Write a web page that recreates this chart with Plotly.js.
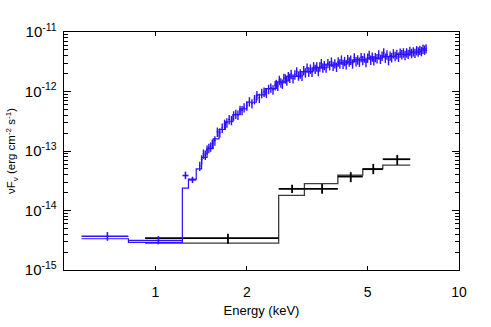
<!DOCTYPE html>
<html>
<head>
<meta charset="utf-8">
<script src="https://cdn.plot.ly/plotly-3.0.1.min.js"></script>
<style>html,body{margin:0;padding:0;background:#fff;}#chart{width:491px;height:327px;}</style>
</head>
<body>
<div id="chart"></div>
<script>
// ---- black spectrum (data) ----
const blackE    = [1.734, 2.82, 3.54, 4.40, 5.22, 6.26];
const blackElo  = [0.925, 2.547, 3.096, 3.99, 4.82, 5.61];
const blackEhi  = [2.547, 3.096, 3.99, 4.82, 5.61, 6.91];
const blackF    = [3.44e-15, 2.31e-14, 2.31e-14, 3.72e-14, 4.95e-14, 7.28e-14];
const blackFlo  = [2.76e-15, 1.96e-14, 1.91e-14, 3.0e-14, 4.08e-14, 5.85e-14];
const blackFhi  = [4.06e-15, 2.70e-14, 2.80e-14, 4.41e-14, 6.08e-14, 8.6e-14];
// ---- black model (step) ----
const blackModelEdges = [0.925, 2.547, 3.096, 3.99, 4.82, 5.61, 6.91];
const blackModelF     = [2.84e-15, 1.79e-14, 2.84e-14, 3.92e-14, 5.01e-14, 5.78e-14];

// ---- blue spectrum: low-energy wide bins ----
const blueLowE   = [0.695, 1.023, 1.256, 1.325];
const blueLowElo = [0.571, 0.815, 1.228, 1.285];
const blueLowEhi = [0.815, 1.227, 1.285, 1.363];
const blueLowF   = [3.69e-15, 3.14e-15, 3.87e-14, 3.27e-14];
const blueLowFlo = [3.1e-15, 2.7e-15, 3.37e-14, 2.9e-14];
const blueLowFhi = [4.34e-15, 3.72e-15, 4.5e-14, 3.7e-14];

// ---- blue spectrum: dense bins ----
const blueE = [1.40,1.42,1.44,1.46,1.48,1.50,1.52,1.54,1.57,1.60,1.63,1.66,1.69,1.72,1.75,1.78,1.81,1.84,1.87,1.90,
  1.93,1.96,2.00,2.04,2.08,2.12,2.16,2.20,2.24,2.28,2.32,2.36,2.40,2.44,2.48,
  2.50,2.53,2.56,2.59,2.62,2.65,2.68,2.71,2.74,2.77,2.80,
  2.84,2.88,2.92,2.96,3.00,3.04,3.08,3.12,3.16,3.20,3.24,3.28,3.32,3.36,3.40,3.44,3.48,3.52,3.56,3.60,
  3.65,3.70,3.75,3.80,3.85,3.90,3.95,4.00,4.05,4.10,4.15,4.20,4.25,4.30,4.35,4.40,
  4.46,4.52,4.58,4.64,4.70,4.76,4.82,4.88,4.94,5.00,5.06,5.12,5.18,5.24,5.30,
  5.37,5.44,5.51,5.58,5.65,5.72,5.79,5.86,5.93,6.00,
  6.08,6.16,6.24,6.32,6.40,6.48,6.56,6.64,6.72,6.80,
  6.89,6.98,7.07,7.16,7.25,7.34,7.43,7.52,7.61,7.70,7.79];
const blueF = [0.056e-12,0.072e-12,0.090e-12,0.086e-12,0.105e-12,0.112e-12,0.118e-12,0.132e-12,0.150e-12,0.21e-12,
  0.205e-12,0.245e-12,0.285e-12,0.30e-12,0.34e-12,0.33e-12,0.395e-12,0.42e-12,0.405e-12,0.49e-12,
  0.485e-12,0.54e-12,0.58e-12,0.68e-12,0.63e-12,0.74e-12,0.86e-12,0.78e-12,0.94e-12,0.99e-12,
  0.95e-12,1.10e-12,1.16e-12,1.08e-12,1.27e-12,
  1.34e-12,1.24e-12,1.56e-12,1.41e-12,1.35e-12,1.68e-12,1.65e-12,1.53e-12,1.80e-12,1.69e-12,1.96e-12,
  1.66e-12,1.93e-12,2.16e-12,1.85e-12,2.00e-12,1.83e-12,2.27e-12,2.09e-12,2.51e-12,2.16e-12,
  2.41e-12,2.14e-12,2.64e-12,2.39e-12,2.63e-12,2.20e-12,2.62e-12,2.98e-12,2.52e-12,2.77e-12,
  2.51e-12,2.99e-12,2.75e-12,3.16e-12,2.69e-12,2.96e-12,2.60e-12,3.18e-12,2.94e-12,3.43e-12,
  2.90e-12,3.24e-12,2.87e-12,3.47e-12,3.18e-12,3.40e-12,
  2.95e-12,3.74e-12,3.21e-12,3.44e-12,3.16e-12,3.77e-12,3.36e-12,3.73e-12,3.13e-12,3.69e-12,
  4.11e-12,3.41e-12,3.84e-12,3.35e-12,3.77e-12,
  3.62e-12,4.17e-12,3.53e-12,3.97e-12,4.50e-12,3.69e-12,4.18e-12,3.35e-12,4.00e-12,3.75e-12,
  4.36e-12,3.93e-12,4.26e-12,3.82e-12,4.49e-12,4.21e-12,4.52e-12,4.09e-12,4.53e-12,4.27e-12,
  4.78e-12,4.43e-12,4.71e-12,4.45e-12,4.93e-12,4.70e-12,5.00e-12,4.76e-12,5.22e-12,5.03e-12,5.30e-12];

// ---- blue model (step) ----
const blueModelEdges = [0.571,0.815,1.227,1.285,1.363,1.42,1.48,1.55,1.62,1.70,1.80,1.90,2.0,2.15,2.3,2.5,2.7,3.0,3.3,3.6,4.0,4.5,5.0,5.6,6.2,6.9,7.5,7.85];
const blueModelF = [3.35e-15,2.9e-15,2.38e-14,3.36e-14,5.0e-14,7.8e-14,1.1e-13,1.6e-13,2.3e-13,3.1e-13,4.1e-13,5.1e-13,6.6e-13,8.8e-13,1.12e-12,1.45e-12,1.8e-12,2.15e-12,2.5e-12,2.8e-12,3.1e-12,3.4e-12,3.65e-12,3.9e-12,4.2e-12,4.6e-12,4.95e-12];

// ---- axis labels ----
const xTickVals = [1, 2, 5, 10];
const xTickText = ['1', '2', '5', '10'];
const yTickVals = [1e-15, 1e-14, 1e-13, 1e-12, 1e-11];
const yTickText = ['10<sup>-15</sup>', '10<sup>-14</sup>', '10<sup>-13</sup>', '10<sup>-12</sup>', '10<sup>-11</sup>'];
const yMinorVals = [];
yTickVals.slice(0, 4).forEach(d => { for (let m = 2; m <= 9; m++) yMinorVals.push(m * d); });

const BLUE = 'rgb(44,16,255)';
const BLACK = '#000';
const GREY = '#3a3a3a';

function stepY(vals) { return vals.concat([vals[vals.length - 1]]); }

const traces = [
  { x: blackModelEdges, y: stepY(blackModelF), mode: 'lines', line: {shape: 'hv', color: GREY, width: 1.3}, hoverinfo: 'skip' },
  { x: blackE, y: blackF, mode: 'markers', marker: {size: 1, color: 'rgba(0,0,0,0)'},
    error_x: {type: 'data', symmetric: false, array: blackEhi.map((v,i)=>v-blackE[i]), arrayminus: blackE.map((v,i)=>v-blackElo[i]), width: 0, thickness: 1.8, color: BLACK},
    error_y: {type: 'data', symmetric: false, array: blackFhi.map((v,i)=>v-blackF[i]), arrayminus: blackF.map((v,i)=>v-blackFlo[i]), width: 0, thickness: 1.8, color: BLACK} },
  { x: blueModelEdges, y: stepY(blueModelF), mode: 'lines', line: {shape: 'hv', color: BLUE, width: 1.2}, hoverinfo: 'skip' },
  { x: blueLowE, y: blueLowF, mode: 'markers', marker: {size: 1, color: 'rgba(0,0,0,0)'},
    error_x: {type: 'data', symmetric: false, array: blueLowEhi.map((v,i)=>v-blueLowE[i]), arrayminus: blueLowE.map((v,i)=>v-blueLowElo[i]), width: 0, thickness: 1.6, color: BLUE},
    error_y: {type: 'data', symmetric: false, array: blueLowFhi.map((v,i)=>v-blueLowF[i]), arrayminus: blueLowF.map((v,i)=>v-blueLowFlo[i]), width: 0, thickness: 1.6, color: BLUE} },
  { x: blueE, y: blueF, mode: 'markers', marker: {size: 1, color: 'rgba(0,0,0,0)'},
    error_x: {type: 'percent', value: 0.6, width: 0, thickness: 1.4, color: BLUE},
    error_y: {type: 'percent', value: 18, width: 0, thickness: 1.4, color: BLUE} }
];

const FAM = 'Liberation Sans, Arial, Helvetica, sans-serif';

const layout = {
  width: 491, height: 327,
  margin: {l: 64, r: 32, t: 32, b: 57},
  paper_bgcolor: '#fff', plot_bgcolor: '#fff',
  showlegend: false,
  font: {family: FAM, size: 13, color: '#000'},
  xaxis: {
    type: 'log', range: [Math.log10(0.5), 1],
    tickmode: 'array', tickvals: xTickVals, ticktext: xTickText,
    ticks: 'inside', ticklen: 4, tickwidth: 1, tickcolor: '#000',
    showline: true, linecolor: '#000', linewidth: 1.3, mirror: 'ticks',
    showgrid: false, zeroline: false,
    tickfont: {family: FAM, size: 14, color: '#000'},
    ticklabelstandoff: 9,
    title: {text: 'Energy (keV)', font: {family: FAM, size: 13, color: '#000'}, standoff: 6}
  },
  yaxis: {
    type: 'log', range: [-15, -11],
    tickmode: 'array', tickvals: yTickVals, ticktext: yTickText,
    ticks: 'inside', ticklen: 7, tickwidth: 1, tickcolor: '#000',
    minor: {tickmode: 'array', tickvals: yMinorVals, ticks: 'inside', ticklen: 4, tickwidth: 1, tickcolor: '#000', showgrid: false},
    showline: true, linecolor: '#000', linewidth: 1.3, mirror: 'ticks',
    showgrid: false, zeroline: false,
    tickfont: {family: FAM, size: 15, color: '#000'},
    ticklabelstandoff: 3,
    title: {text: 'νF<sub>ν</sub> (erg cm<sup>-2</sup> s<sup>-1</sup>)', font: {family: FAM, size: 11.5, color: '#000'}, standoff: 6}
  }
};

Plotly.newPlot('chart', traces, layout, {displayModeBar: false, staticPlot: true});
</script>
</body>
</html>
